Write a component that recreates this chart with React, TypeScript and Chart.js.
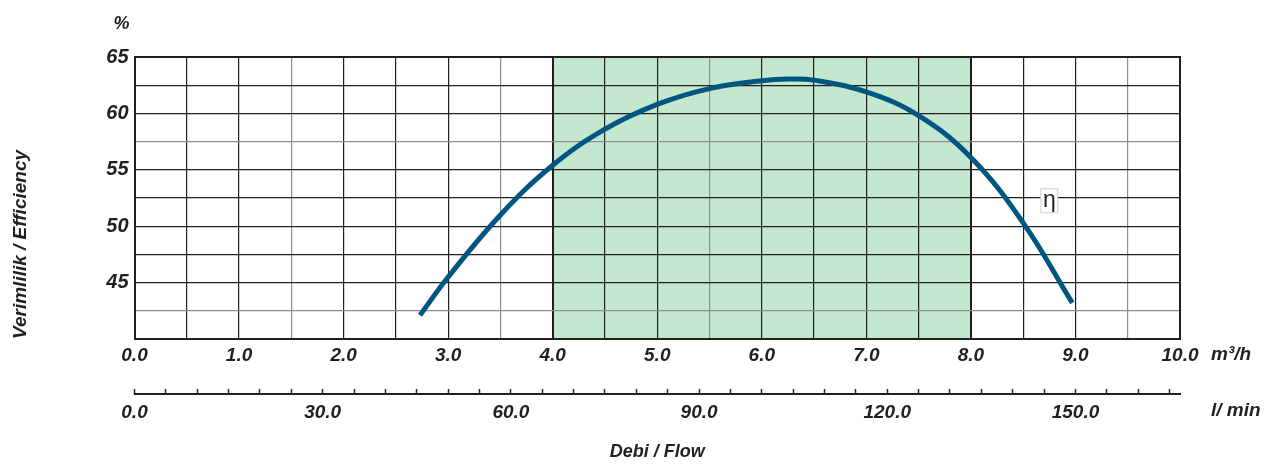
import React, { useEffect, useRef } from 'react';
import { Chart, registerables } from 'chart.js';

Chart.register(...registerables);

// ---- data ----
const flowM3h = [2.73, 3.0, 3.5, 4.0, 4.5, 5.0, 5.5, 6.0, 6.25, 6.5, 7.0, 7.5, 8.0, 8.5, 8.97];
const efficiency = [42.1, 45.5, 51.0, 55.4, 58.6, 60.8, 62.2, 62.9, 63.05, 62.95, 61.9, 59.8, 56.1, 50.3, 43.2];

const bandFlow = [4.0, 8.0];
const bandTop = [65, 65];

const xTickValues = [0, 1, 2, 3, 4, 5, 6, 7, 8, 9, 10];
const xTickLabels = ['0.0', '1.0', '2.0', '3.0', '4.0', '5.0', '6.0', '7.0', '8.0', '9.0', '10.0'];
const yTickValues = [65, 60, 55, 50, 45];
const yTickLabels = ['65', '60', '55', '50', '45'];
const lminTickValues = [0, 30, 60, 90, 120, 150];
const lminTickLabels = ['0.0', '30.0', '60.0', '90.0', '120.0', '150.0'];

const curveLabel = 'η';
const yTitle = 'Verimlilik / Efficiency';
const xTitle = 'Debi / Flow';
const unitM3h = 'm³/h';
const unitLmin = 'l/ min';
const unitPercent = '%';

const LMIN_PER_M3H = 1000 / 60;

const TEXT = '#231f20';
const GRID = '#231f20';
const GRID_LIGHT = '#8c8c8c';
const GREEN = '#c4e8cf';
const CURVE = '#00567f';
const FONT_FAMILY = '"Liberation Sans", Arial, Helvetica, sans-serif';

const lightX = [1.5, 3.5, 5.5, 9.5];
const lightY = [57.5, 42.5];

const textPlugin = {
  id: 'extraTexts',
  afterDraw(chart: any) {
    const { ctx, chartArea, scales } = chart;
    const x = scales.x;
    const x2 = scales.x2;
    const y = scales.y;
    ctx.save();
    ctx.fillStyle = TEXT;
    ctx.font = `italic bold 18px ${FONT_FAMILY}`;
    ctx.textBaseline = 'middle';
    ctx.textAlign = 'center';
    ctx.fillText(unitPercent, chartArea.left - 13, chartArea.top - 33);
    ctx.textAlign = 'left';
    ctx.font = `italic bold 19px ${FONT_FAMILY}`;
    ctx.fillText(unitM3h, chartArea.right + 31, x.top + 16);
    ctx.fillText(unitLmin, chartArea.right + 31, x2.top + 17);

    // η label box
    const lx = x.getPixelForValue(8.75);
    const ly = y.getPixelForValue(52.25);
    ctx.fillStyle = '#ffffff';
    ctx.fillRect(lx - 8.5, ly - 12, 17, 24);
    ctx.strokeStyle = '#cfcfcf';
    ctx.lineWidth = 1;
    ctx.strokeRect(lx - 8.5, ly - 12, 17, 24);
    ctx.fillStyle = TEXT;
    ctx.font = `23px ${FONT_FAMILY}`;
    ctx.textAlign = 'center';
    ctx.textBaseline = 'alphabetic';
    ctx.fillText(curveLabel, lx, ly + 6);
    ctx.restore();
  },
};

export default function App() {
  const canvasRef = useRef<HTMLCanvasElement | null>(null);

  useEffect(() => {
    const canvas = canvasRef.current;
    if (!canvas) return;
    const chart = new Chart(canvas, {
      type: 'line',
      data: {
        datasets: [
          {
            label: curveLabel,
            data: flowM3h.map((f, i) => ({ x: f, y: efficiency[i] })),
            borderColor: CURVE,
            borderWidth: 5,
            pointRadius: 0,
            fill: false,
            tension: 0.4,
            borderCapStyle: 'butt',
            xAxisID: 'x',
            yAxisID: 'y',
          },
          {
            label: 'band',
            data: bandFlow.map((f, i) => ({ x: f, y: bandTop[i] })),
            borderWidth: 0,
            borderColor: 'rgba(0,0,0,0)',
            backgroundColor: GREEN,
            pointRadius: 0,
            fill: 'start',
            xAxisID: 'x',
            yAxisID: 'y',
          },
        ],
      },
      options: {
        responsive: false,
        animation: false,
        layout: { padding: { top: 57, right: 104, bottom: 0, left: 0 } },
        plugins: {
          legend: { display: false },
          tooltip: { enabled: false },
          filler: { drawTime: 'beforeDraw' },
        } as any,
        scales: {
          x: {
            type: 'linear',
            position: 'bottom',
            weight: 0,
            min: 0,
            max: 10,
            afterFit: (s: any) => {
              s.height = 55;
            },
            afterBuildTicks: (s: any) => {
              const t: any[] = [];
              for (let i = 0; i <= 20; i++) t.push({ value: i * 0.5 });
              s.ticks = t;
            },
            ticks: {
              autoSkip: false,
              maxRotation: 0,
              padding: 5,
              color: TEXT,
              font: { family: FONT_FAMILY, size: 19, weight: 'bold', style: 'italic' },
              callback: (v: any) => {
                const idx = xTickValues.indexOf(Number(v));
                return idx >= 0 ? xTickLabels[idx] : '';
              },
            },
            grid: {
              drawTicks: false,
              color: (c: any) => (lightX.includes(c.tick?.value) ? GRID_LIGHT : GRID),
              lineWidth: (c: any) => {
                const v = c.tick?.value;
                if (v === 4 || v === 8) return 2;
                if (v === 0 || v === 10) return 2;
                return 1.2;
              },
            },
            border: { display: true, color: GRID, width: 2 },
          },
          x2: {
            type: 'linear',
            position: 'bottom',
            weight: 1,
            min: 0,
            max: 10 * LMIN_PER_M3H,
            afterFit: (s: any) => {
              s.height = 72;
            },
            afterBuildTicks: (s: any) => {
              const t: any[] = [];
              for (let v = 0; v <= 165; v += 5) t.push({ value: v });
              s.ticks = t;
            },
            ticks: {
              autoSkip: false,
              maxRotation: 0,
              padding: 12,
              color: TEXT,
              font: { family: FONT_FAMILY, size: 19, weight: 'bold', style: 'italic' },
              callback: (v: any) => {
                const idx = lminTickValues.indexOf(Number(v));
                return idx >= 0 ? lminTickLabels[idx] : '';
              },
            },
            grid: {
              drawOnChartArea: false,
              drawTicks: true,
              tickLength: -5,
              tickColor: GRID,
              tickWidth: 1.5,
            },
            border: { display: true, color: GRID, width: 2 },
            title: {
              display: true,
              text: xTitle,
              color: TEXT,
              font: { family: FONT_FAMILY, size: 18, weight: 'bold', style: 'italic' },
              padding: { top: 0, bottom: 3 },
            },
          },
          y: {
            type: 'linear',
            position: 'left',
            min: 40,
            max: 65,
            afterFit: (s: any) => {
              s.width = 134.5;
            },
            afterBuildTicks: (s: any) => {
              const t: any[] = [];
              for (let i = 0; i <= 10; i++) t.push({ value: 40 + i * 2.5 });
              s.ticks = t;
            },
            ticks: {
              autoSkip: false,
              padding: 6,
              color: TEXT,
              font: { family: FONT_FAMILY, size: 20, weight: 'bold', style: 'italic' },
              callback: (v: any) => {
                const idx = yTickValues.indexOf(Number(v));
                return idx >= 0 ? yTickLabels[idx] : '';
              },
            },
            grid: {
              drawTicks: false,
              color: (c: any) => (lightY.includes(c.tick?.value) ? GRID_LIGHT : GRID),
              lineWidth: (c: any) => {
                const v = c.tick?.value;
                if (v === 65 || v === 40) return 2;
                return 1.2;
              },
            },
            border: { display: true, color: GRID, width: 2 },
            title: {
              display: true,
              text: yTitle,
              align: 'start',
              color: TEXT,
              font: { family: FONT_FAMILY, size: 19, weight: 'bold', style: 'italic' },
              padding: { top: 9, bottom: 0 },
            },
          },
          yr: {
            type: 'linear',
            position: 'right',
            display: true,
            min: 40,
            max: 65,
            afterFit: (s: any) => {
              s.width = 0;
            },
            ticks: { display: false },
            grid: { drawOnChartArea: false, drawTicks: false },
            border: { display: true, color: GRID, width: 2 },
          },
        },
      } as any,
      plugins: [textPlugin],
    });
    return () => chart.destroy();
  }, []);

  return (
    <div style={{ position: 'fixed', left: 0, top: 0, width: 1284, height: 466, background: '#fff' }}>
      <canvas ref={canvasRef} width={1284} height={466} />
    </div>
  );
}
